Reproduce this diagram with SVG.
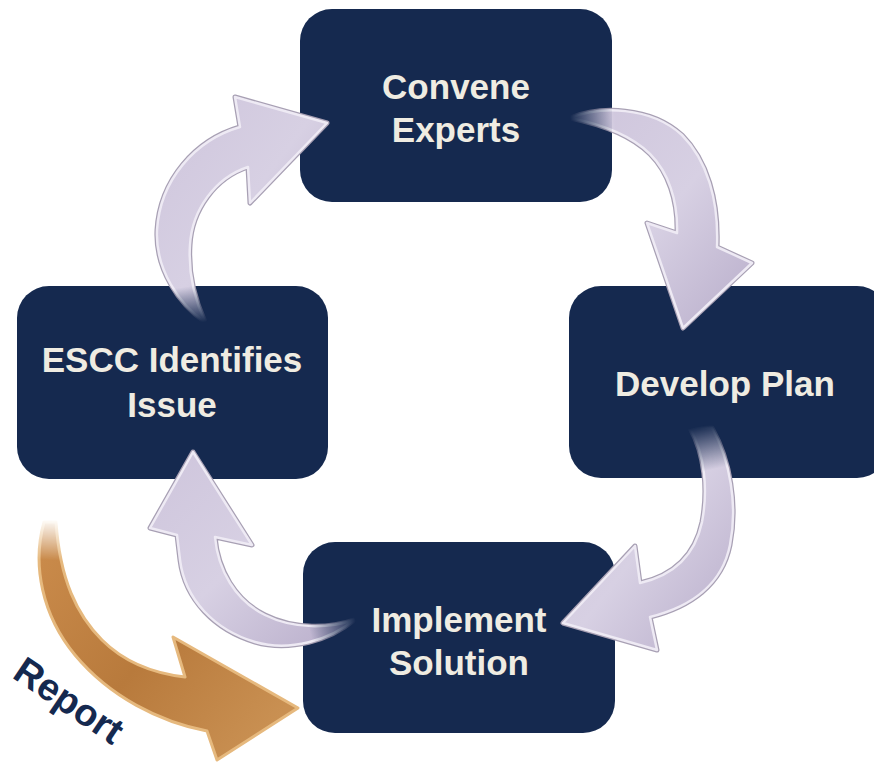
<svg xmlns="http://www.w3.org/2000/svg" width="874" height="765" viewBox="0 0 874 765">
<style>
.box{fill:#15294f}
.lbl{font-family:"Liberation Sans",Arial,sans-serif;font-weight:bold;font-size:35px;fill:#efece2;text-anchor:middle}
.edge{stroke:#a8a0b4;stroke-width:5;stroke-linejoin:round;fill:none}
.arr{stroke:#eeeaf4;stroke-width:2.5;stroke-linejoin:round;fill:url(#gl)}
.rep{font-family:"Liberation Sans",Arial,sans-serif;font-weight:bold;font-size:38px;fill:#15294f}
.mr{stroke:none}
</style>
<defs>
<linearGradient id="gl" x1="0" y1="0" x2="1" y2="1">
<stop offset="0" stop-color="#cec5dc"/>
<stop offset="0.5" stop-color="#d7d0e3"/>
<stop offset="1" stop-color="#b8adca"/>
</linearGradient>
<linearGradient id="f1" gradientUnits="userSpaceOnUse" x1="205" y1="322" x2="200" y2="285">
<stop offset="0" stop-color="#fff" stop-opacity="0"/>
<stop offset="1" stop-color="#fff" stop-opacity="1"/>
</linearGradient>
<linearGradient id="f2" gradientUnits="userSpaceOnUse" x1="570" y1="118" x2="615" y2="115">
<stop offset="0" stop-color="#fff" stop-opacity="0"/>
<stop offset="1" stop-color="#fff" stop-opacity="1"/>
</linearGradient>
<linearGradient id="f3" gradientUnits="userSpaceOnUse" x1="700" y1="426" x2="710" y2="470">
<stop offset="0" stop-color="#fff" stop-opacity="0"/>
<stop offset="1" stop-color="#fff" stop-opacity="1"/>
</linearGradient>
<linearGradient id="f4" gradientUnits="userSpaceOnUse" x1="356" y1="620" x2="310" y2="632">
<stop offset="0" stop-color="#fff" stop-opacity="0"/>
<stop offset="1" stop-color="#fff" stop-opacity="1"/>
</linearGradient>
<linearGradient id="f5" gradientUnits="userSpaceOnUse" x1="50" y1="518" x2="48" y2="560">
<stop offset="0" stop-color="#fff" stop-opacity="0"/>
<stop offset="1" stop-color="#fff" stop-opacity="1"/>
</linearGradient>
<mask id="m1" maskUnits="userSpaceOnUse" x="0" y="0" width="874" height="765"><rect class="mr" width="874" height="765" fill="url(#f1)"/></mask>
<mask id="m2" maskUnits="userSpaceOnUse" x="0" y="0" width="874" height="765"><rect class="mr" width="874" height="765" fill="url(#f2)"/></mask>
<mask id="m3" maskUnits="userSpaceOnUse" x="0" y="0" width="874" height="765"><rect class="mr" width="874" height="765" fill="url(#f3)"/></mask>
<mask id="m4" maskUnits="userSpaceOnUse" x="0" y="0" width="874" height="765"><rect class="mr" width="874" height="765" fill="url(#f4)"/></mask>
<mask id="m5" maskUnits="userSpaceOnUse" x="0" y="0" width="874" height="765"><rect class="mr" width="874" height="765" fill="url(#f5)"/></mask>
<linearGradient id="go" gradientUnits="userSpaceOnUse" x1="40" y1="560" x2="260" y2="740">
<stop offset="0" stop-color="#c98a4a"/>
<stop offset="0.5" stop-color="#b87a3c"/>
<stop offset="1" stop-color="#c99052"/>
</linearGradient>
<path id="p1" d="M 205,322 C 180,305 155,270 157,230 C 160,180 195,140 240,127 L 235,97 L 327,123 L 250,203 L 248,167 C 215,178 192,210 190,245 C 188,275 195,300 205,322 Z"/>
<path id="p2" d="M 570,118 C 600,106 650,106 682,135 C 707,160 719,200 717,247 L 752,263 L 683,328 L 647,223 L 677,233 C 678,200 668,172 650,154 C 630,134 600,124 570,118 Z"/>
<path id="p3" d="M 690,428 C 705,455 708,490 702,522 C 695,555 675,575 640,583 L 635,546 L 563,623 L 657,650 L 650,617 C 690,607 722,585 730,545 C 738,505 730,460 712,428 Z"/>
<path id="p4" d="M 354,620 C 330,640 290,652 255,642 C 215,630 185,600 180,560 L 177,535 L 150,528 L 193,452 L 252,545 L 215,537 C 218,570 235,600 265,615 C 295,630 330,628 354,620 Z"/>
</defs>

<g id="node-convene">
<rect class="box" x="300" y="9" width="312" height="193" rx="32"/>
<text class="lbl" x="456" y="99">Convene</text>
<text class="lbl" x="456" y="142">Experts</text>
</g>
<g id="node-escc">
<rect class="box" x="17" y="286" width="311" height="193" rx="32"/>
<text class="lbl" x="172" y="372">ESCC Identifies</text>
<text class="lbl" x="172" y="417">Issue</text>
</g>
<g id="node-plan">
<rect class="box" x="569" y="286" width="320" height="192" rx="32"/>
<text class="lbl" x="725" y="396">Develop Plan</text>
</g>
<g id="node-implement">
<rect class="box" x="303" y="542" width="312" height="191" rx="32"/>
<text class="lbl" x="459" y="632">Implement</text>
<text class="lbl" x="459" y="675">Solution</text>
</g>

<g id="connectors">
<g mask="url(#m1)"><use href="#p1" class="edge"/><use href="#p1" class="arr"/></g>
<g mask="url(#m2)"><use href="#p2" class="edge"/><use href="#p2" class="arr"/></g>
<g mask="url(#m3)"><use href="#p3" class="edge"/><use href="#p3" class="arr"/></g>
<g mask="url(#m4)"><use href="#p4" class="edge"/><use href="#p4" class="arr"/></g>
<path mask="url(#m5)" stroke="#e6b97e" stroke-width="3" stroke-linejoin="round" fill="url(#go)" d="M 44,522 C 32,565 42,615 75,655 C 110,697 160,722 207,731 L 217,760 L 298,708 L 173,637 L 185,677 C 150,673 122,660 102,640 C 77,615 60,580 56,522 Z"/>
</g>

<text class="rep" transform="translate(11,677) rotate(34)">Report</text>
</svg>
